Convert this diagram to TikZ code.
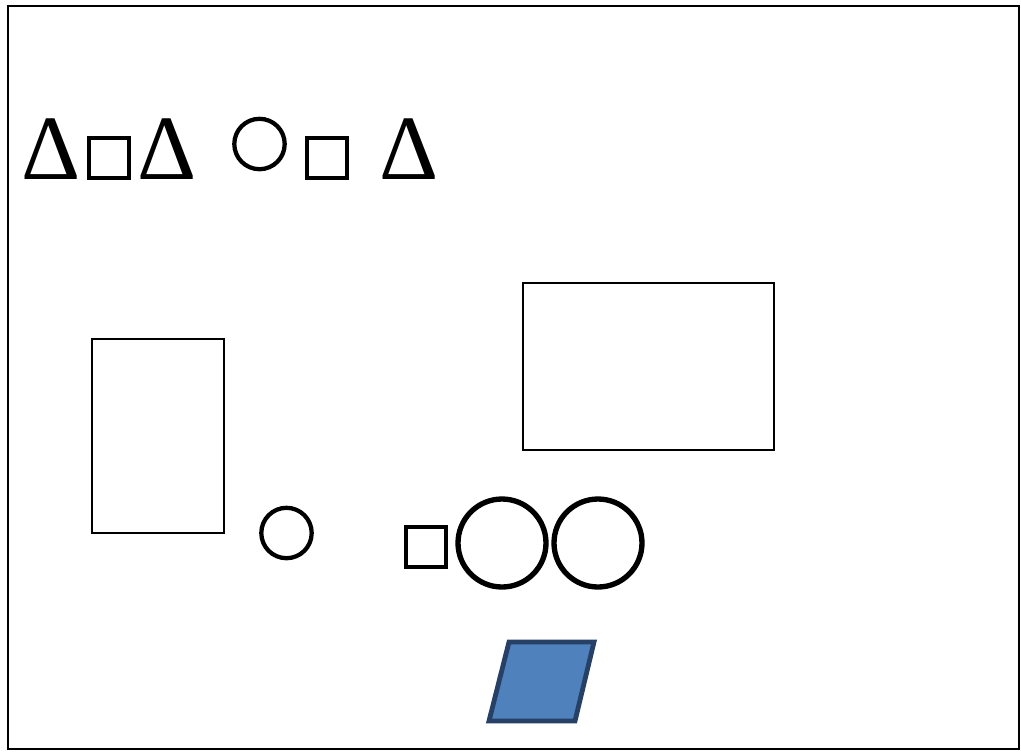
\documentclass[tikz,border=0pt]{standalone}
\usepackage{fontspec}
\newfontfamily\deltafont{Liberation Serif}
\begin{document}
\begin{tikzpicture}[x=0.75pt,y=-0.75pt]

	% Farben
	\definecolor{parafill}{RGB}{79,129,189}
	\definecolor{pararand}{RGB}{38,64,102}

	% Stile
	\tikzset{
		duenn/.style={black, line width=1.1pt},
		dick/.style={black, line width=3.2pt},
		sehrdick/.style={black, line width=4pt},
		delta/.style={anchor=base, inner sep=0pt, font=\deltafont\fontsize{69}{69}\selectfont}
	}

	% Rahmen
	\useasboundingbox (0,0) rectangle (1021,751);
	\draw[duenn] (8,6) rectangle (1019,749);

	% Symbolzeile oben
	\node[delta] (delta1) at (51,179) {Δ};
	\draw[dick] (89,138) rectangle (129,178);
	\node[delta] (delta2) at (167,179) {Δ};
	\draw[dick] (259.5,144) circle[radius=25.2];
	\draw[dick] (307,138) rectangle (347,178);
	\node[delta] (delta3) at (409,179) {Δ};

	% Rechtecke
	\draw[duenn] (92,339) rectangle (224,533);
	\draw[duenn] (523,283) rectangle (774,450);

	% Kreise & Quadrat unten
	\draw[dick] (286.5,533) circle[radius=25.2];
	\draw[dick] (406,527) rectangle (446,567);
	\draw[sehrdick] (502,543) circle[radius=44];
	\draw[sehrdick] (598,543) circle[radius=44];

	% Parallelogramm
	\draw[pararand, fill=parafill, line width=3.6pt] (509,642) -- (594,642) -- (575,721) -- (489,721) -- cycle;

\end{tikzpicture}
\end{document}
